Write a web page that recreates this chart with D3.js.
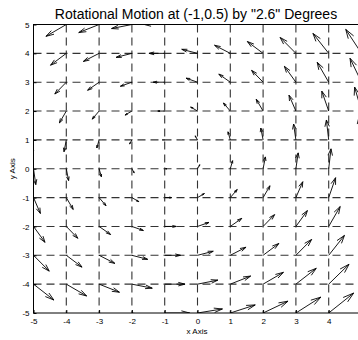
<!DOCTYPE html>
<html>
<head>
<meta charset="utf-8">
<script src="https://d3js.org/d3.v7.min.js"></script>
<style>
  body { margin: 0; background: #fff; }
  text { font-family: "Liberation Sans", Arial, sans-serif; fill: #000; }
</style>
</head>
<body>
<div id="chart"></div>
<script>
  // grid positions
  const xs = [-5, -4, -3, -2, -1, 0, 1, 2, 3, 4, 5];
  const ys = [-5, -4, -3, -2, -1, 0, 1, 2, 3, 4, 5];
  // horizontal arrow component for each row (y = -5 .. 5)
  const uByRow = [0.76, 0.62, 0.48, 0.35, 0.21, 0.07, -0.07, -0.21, -0.35, -0.48, -0.62];
  // vertical arrow component for each column (x = -5 .. 5)
  const vByCol = [-0.55, -0.41, -0.28, -0.14, 0, 0.14, 0.28, 0.41, 0.55, 0.69, 0.83];
  const xTicks = [-5, -4, -3, -2, -1, 0, 1, 2, 3, 4];
  const yTicks = [-5, -4, -3, -2, -1, 0, 1, 2, 3, 4, 5];

  const width = 358, height = 340;
  const svg = d3.select("#chart").append("svg")
    .attr("width", width).attr("height", height);

  const x = d3.scaleLinear().domain([-5, 5]).range([33.5, 361.5]);
  const y = d3.scaleLinear().domain([-5, 5]).range([313, 24.5]);

  svg.append("clipPath").attr("id", "clip")
    .append("rect")
    .attr("x", x(-5)).attr("y", y(5))
    .attr("width", x(5) - x(-5)).attr("height", y(-5) - y(5));

  // dashed grid
  const grid = svg.append("g")
    .attr("stroke", "#333").attr("stroke-width", 1.1)
    .attr("stroke-dasharray", "8,5").attr("fill", "none");
  grid.selectAll(".gx").data(xTicks.slice(1)).join("line")
    .attr("x1", d => x(d)).attr("x2", d => x(d))
    .attr("y1", y(5)).attr("y2", y(-5));
  grid.selectAll(".gy").data(yTicks.slice(1, -1)).join("line")
    .attr("y1", d => y(d)).attr("y2", d => y(d))
    .attr("x1", x(-5)).attr("x2", x(5));

  // axes box
  svg.append("rect")
    .attr("x", x(-5)).attr("y", y(5))
    .attr("width", x(5) - x(-5)).attr("height", y(-5) - y(5))
    .attr("fill", "none").attr("stroke", "#000").attr("stroke-width", 1);

  const fmt = d => String(d);
  const xAxis = d3.axisBottom(x).tickValues(xTicks).tickFormat(fmt).tickSize(-3).tickPadding(5);
  const yAxis = d3.axisLeft(y).tickValues(yTicks).tickFormat(fmt).tickSize(-3).tickPadding(4);
  svg.append("g").attr("transform", `translate(0,${y(-5)})`).call(xAxis)
    .call(g => g.select(".domain").remove())
    .call(g => g.selectAll("text").style("font-size", "8px").attr("font-family", null));
  svg.append("g").attr("transform", `translate(${x(-5)},0)`).call(yAxis)
    .call(g => g.select(".domain").remove())
    .call(g => g.selectAll("text").style("font-size", "8px").attr("font-family", null));

  // quiver arrows
  const arrows = d3.cross(d3.range(xs.length), d3.range(ys.length)).map(([i, j]) => ({
    x0: xs[i], y0: ys[j], u: uByRow[j], v: vByCol[i]
  }));
  const alpha = 0.33, beta = 0.3;
  const q = svg.append("g").attr("clip-path", "url(#clip)")
    .attr("stroke", "#000").attr("stroke-width", 0.9).attr("fill", "none");
  q.selectAll("path").data(arrows).join("path")
    .attr("d", d => {
      const tx = d.x0 + d.u, ty = d.y0 + d.v;
      const h1x = tx - alpha * (d.u + beta * d.v), h1y = ty - alpha * (d.v - beta * d.u);
      const h2x = tx - alpha * (d.u - beta * d.v), h2y = ty - alpha * (d.v + beta * d.u);
      return `M${x(d.x0)},${y(d.y0)}L${x(tx)},${y(ty)}` +
        `M${x(h1x)},${y(h1y)}L${x(tx)},${y(ty)}L${x(h2x)},${y(h2y)}`;
    });

  // labels
  svg.append("text").attr("x", 196).attr("y", 19)
    .attr("text-anchor", "middle").style("font-size", "14px")
    .text('Rotational Motion at (-1,0.5) by  "2.6" Degrees');
  svg.append("text").attr("x", 197).attr("y", 334)
    .attr("text-anchor", "middle").style("font-size", "8px").text("x Axis");
  svg.append("text").attr("transform", `translate(15,${y(0)}) rotate(-90)`)
    .attr("text-anchor", "middle").style("font-size", "8px").text("y Axis");
</script>
</body>
</html>
